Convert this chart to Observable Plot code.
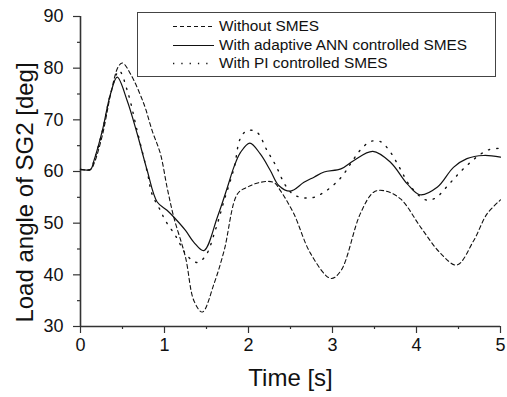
<!DOCTYPE html>
<html>
<head>
<meta charset="utf-8">
<script src="https://cdn.jsdelivr.net/npm/d3@7"></script>
<script src="https://cdn.jsdelivr.net/npm/@observablehq/plot@0.6"></script>
<style>
  html, body { margin: 0; padding: 0; background: #fff; }
  #wrap { position: relative; width: 507px; height: 397px; font-family: "Liberation Sans", Arial, sans-serif; }
  #legend { position: absolute; left: 137px; top: 12px; width: 359px; height: 65px; border: 1px solid #444; background: #fff; box-sizing: border-box; }
  #legend .row { position: absolute; left: 0; height: 18px; display: flex; align-items: center; }
  #legend .row span { font-size: 15.4px; color: #111; margin-left: 5px; white-space: nowrap; }
</style>
</head>
<body>
<div id="wrap"></div>
<script>
// ---- data ----
const seriesNames = ["Without SMES", "With adaptive ANN controlled SMES", "With PI controlled SMES"];

const tWithout = [0, 0.12, 0.16, 0.26, 0.36, 0.45, 0.50, 0.595, 0.754, 0.853, 0.952, 1.03, 1.11, 1.25, 1.35, 1.45, 1.59, 1.71, 1.87, 1.99, 2.14, 2.3, 2.38, 2.54, 2.74, 2.98, 3.1, 3.33, 3.49, 3.61, 3.81, 4.05, 4.29, 4.48, 4.68, 4.84, 5.0];
const vWithout = [60.4, 60.4, 61.5, 67.0, 75.0, 80.3, 81.0, 78.9, 73.1, 67.9, 63.4, 57.0, 51.2, 43.4, 35.0, 32.8, 38.3, 44.7, 55.7, 57.0, 57.9, 57.9, 56.3, 51.8, 44.1, 39.3, 40.8, 51.8, 56.0, 56.3, 54.7, 49.2, 44.1, 41.9, 46.6, 51.8, 54.5];

const tANN = [0, 0.12, 0.16, 0.26, 0.357, 0.437, 0.556, 0.675, 0.794, 0.913, 1.03, 1.11, 1.25, 1.35, 1.468, 1.63, 1.75, 1.825, 1.905, 2.016, 2.14, 2.26, 2.36, 2.5, 2.66, 2.78, 2.9, 3.1, 3.25, 3.48, 3.69, 3.89, 4.04, 4.25, 4.44, 4.6, 4.8, 5.0];
const vANN = [60.4, 60.4, 62.1, 67.9, 75.0, 78.25, 73.7, 67.3, 60.2, 54.1, 52.5, 51.2, 48.6, 46.3, 44.7, 51.2, 57.0, 60.8, 63.7, 65.5, 63.4, 60.2, 57.3, 56.2, 57.9, 58.9, 59.9, 60.5, 62.1, 63.9, 61.8, 57.6, 55.5, 57.0, 60.8, 62.5, 63.1, 62.8];

const tPI = [0, 0.12, 0.16, 0.26, 0.36, 0.46, 0.56, 0.68, 0.8, 0.85, 0.95, 1.01, 1.13, 1.27, 1.39, 1.49, 1.61, 1.71, 1.83, 1.90, 1.98, 2.10, 2.22, 2.33, 2.44, 2.54, 2.66, 2.78, 2.9, 3.02, 3.12, 3.26, 3.34, 3.45, 3.57, 3.67, 3.80, 3.92, 4.11, 4.23, 4.33, 4.43, 4.52, 4.63, 4.74, 4.86, 5.0];
const vPI = [60.4, 60.4, 62.0, 67.8, 75.2, 79.5, 75.5, 67.5, 59.5, 55.7, 52.5, 50.5, 47.6, 43.7, 42.4, 43.7, 48.9, 54.4, 60.8, 66.3, 67.9, 67.6, 64.1, 61.0, 57.3, 55.5, 54.9, 55.0, 56.0, 57.5, 59.2, 62.6, 64.3, 65.8, 65.8, 64.2, 60.7, 57.3, 54.5, 54.9, 56.5, 58.3, 59.9, 61.6, 63.1, 64.2, 64.5];

const xTicks = [0, 1, 2, 3, 4, 5];
const xMinorTicks = [0.5, 1.5, 2.5, 3.5, 4.5];
const yTicks = [30, 40, 50, 60, 70, 80, 90];
const yMinorTicks = [35, 45, 55, 65, 75, 85];
const xLabel = "Time [s]";
const yLabel = "Load angle of SG2 [deg]";

// ---- build ----
const toRows = (ts, vs) => ts.map((t, i) => ({t, v: vs[i]}));
const dWithout = toRows(tWithout, vWithout);
const dANN = toRows(tANN, vANN);
const dPI = toRows(tPI, vPI);

const styles = [
  {strokeDasharray: "4,3"},
  {strokeDasharray: null},
  {strokeDasharray: "1.3,7"}
];

const font = "'Liberation Sans', Arial, sans-serif";
const axisColor = "#333";

const chart = Plot.plot({
  width: 507,
  height: 397,
  marginLeft: 80,
  marginRight: 7,
  marginTop: 16,
  marginBottom: 71,
  style: {fontFamily: font, fontSize: "18px", color: "#111", background: "#fff", overflow: "visible"},
  x: {domain: [0, 5]},
  y: {domain: [30, 90]},
  marks: [
    Plot.axisX({ticks: xMinorTicks, tickSize: 3, text: null, label: null, stroke: axisColor, strokeWidth: 1.2}),
    Plot.axisX({ticks: xTicks, tickSize: 7, tickPadding: 5, label: null, stroke: axisColor, strokeWidth: 1.2, tickFormat: d => String(d), fill: "#111"}),
    Plot.axisY({ticks: yMinorTicks, tickSize: 3, text: null, label: null, stroke: axisColor, strokeWidth: 1.2}),
    Plot.axisY({ticks: yTicks, tickSize: 7, tickPadding: 10, label: null, stroke: axisColor, strokeWidth: 1.2, tickFormat: d => String(d), fill: "#111"}),
    Plot.ruleX([0], {stroke: axisColor, strokeWidth: 1.6}),
    Plot.ruleY([30], {stroke: axisColor, strokeWidth: 1.6}),
    Plot.line(dWithout, {x: "t", y: "v", curve: "catmull-rom", stroke: "#111", strokeWidth: 1.1, strokeDasharray: styles[0].strokeDasharray}),
    Plot.line(dANN, {x: "t", y: "v", curve: "catmull-rom", stroke: "#111", strokeWidth: 1.2}),
    Plot.line(dPI, {x: "t", y: "v", curve: "catmull-rom", stroke: "#111", strokeWidth: 1.4, strokeDasharray: styles[2].strokeDasharray}),
    Plot.text([xLabel], {frameAnchor: "bottom", textAnchor: "middle", lineAnchor: "top", dy: 42, fontSize: 24, fill: "#111"}),
    Plot.text([yLabel], {frameAnchor: "left", textAnchor: "middle", rotate: -90, lineAnchor: "middle", dx: -55, dy: 21, fontSize: 24, fill: "#111"})
  ]
});

const wrap = document.getElementById("wrap");
wrap.appendChild(chart);

// legend (HTML overlay)
const legend = document.createElement("div");
legend.id = "legend";
const rowTops = [4, 23, 41];
seriesNames.forEach((name, i) => {
  const row = document.createElement("div");
  row.className = "row";
  row.style.top = rowTops[i] + "px";
  row.style.left = "35px";
  const svg = d3.create("svg").attr("width", 41).attr("height", 18);
  svg.append("line").attr("x1", 0).attr("x2", 41).attr("y1", 9.5).attr("y2", 9.5)
    .attr("stroke", "#111").attr("stroke-width", i === 2 ? 1.4 : 1.2)
    .attr("stroke-dasharray", styles[i].strokeDasharray);
  row.appendChild(svg.node());
  const s = document.createElement("span");
  s.textContent = name;
  row.appendChild(s);
  legend.appendChild(row);
});
wrap.appendChild(legend);
</script>
</body>
</html>
